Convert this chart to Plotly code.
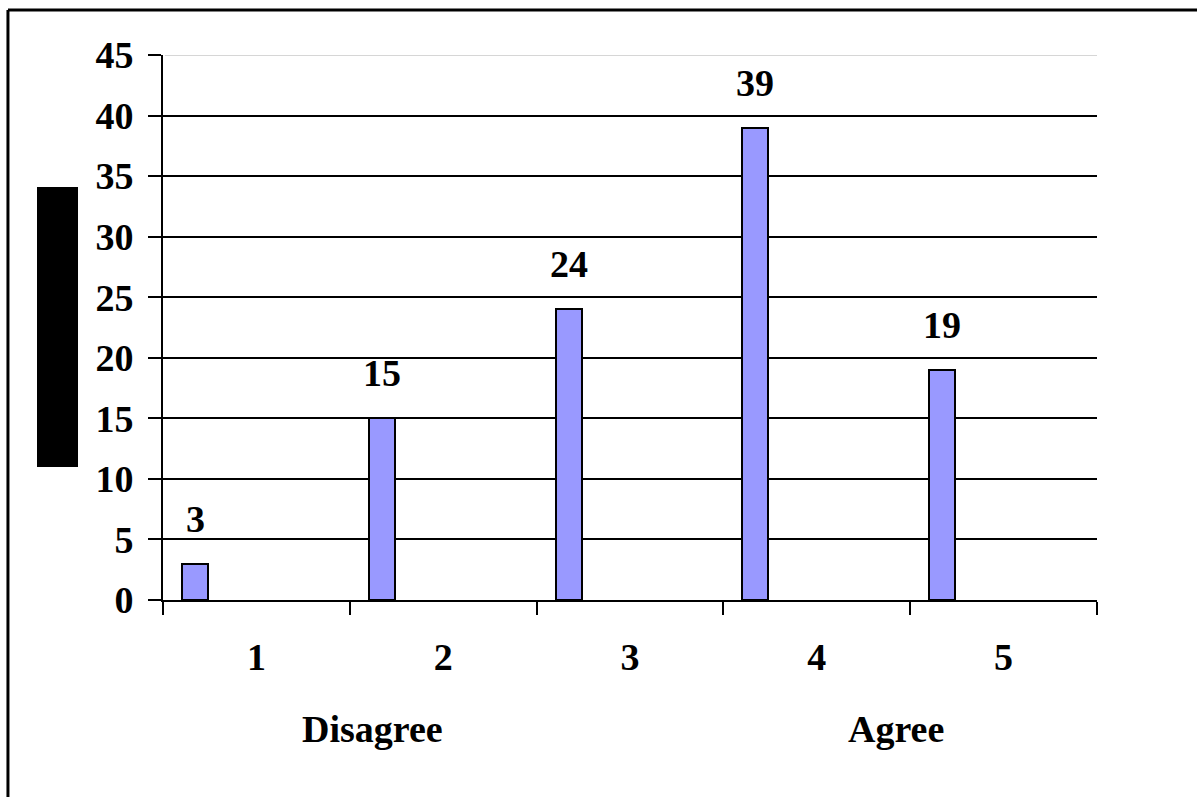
import plotly.graph_objects as go

categories = [1, 2, 3, 4, 5]
values = [3, 15, 24, 39, 19]
y_ticks = [0, 5, 10, 15, 20, 25, 30, 35, 40, 45]
scale_labels = ["Disagree", "Agree"]

BAR_OFFSET = -0.398
BAR_WIDTH = 0.139
FONT = dict(family="Liberation Serif", size=38, color="black", weight="bold")

fig = go.Figure()
fig.add_trace(go.Bar(
    x=categories, y=values,
    offset=BAR_OFFSET, width=BAR_WIDTH,
    marker=dict(color="#9999FF", line=dict(color="black", width=2)),
    showlegend=False,
))

# value labels above each bar
for c, v in zip(categories, values):
    fig.add_annotation(
        x=c + BAR_OFFSET + BAR_WIDTH / 2, y=v, xref="x", yref="y",
        text=str(v), showarrow=False, yanchor="bottom", yshift=22,
        font=FONT,
    )

fig.update_layout(
    width=1197, height=797,
    margin=dict(l=163, r=100, t=55, b=197),
    paper_bgcolor="white", plot_bgcolor="white",
    bargap=0,
    font=FONT,
)

fig.update_xaxes(
    range=[0.5, 5.5],
    tickvals=categories, ticktext=[str(c) for c in categories],
    ticks="outside", ticklen=22, tickcolor="rgba(0,0,0,0)",
    minor=dict(tickvals=[c - 0.5 for c in categories] + [categories[-1] + 0.5],
               ticks="outside", ticklen=13, tickwidth=2, tickcolor="black", showgrid=False),
    showline=True, linecolor="black", linewidth=2,
    showgrid=False, zeroline=False,
    tickfont=FONT,
)
fig.update_yaxes(
    range=[0, 45],
    tickvals=y_ticks,
    ticks="outside", ticklen=13, tickwidth=2, tickcolor="black",
    showline=True, linecolor="black", linewidth=2,
    showgrid=True, gridcolor="black", gridwidth=2,
    zeroline=False,
    ticklabelstandoff=7,
    tickfont=FONT,
)

# light top line at 45 (covers the black grid line)
fig.add_shape(type="line", xref="paper", yref="y", x0=0, x1=1, y0=45, y1=45,
              line=dict(color="white", width=5), layer="above")
fig.add_shape(type="line", xref="paper", yref="y", x0=0.002, x1=1, y0=45, y1=45,
              line=dict(color="#c8c8c8", width=1.5), layer="above")

# scale-end labels
fig.add_annotation(x=0.2248, y=-0.237, xref="paper", yref="paper", text=scale_labels[0],
                   showarrow=False, font=FONT, xanchor="center", yanchor="middle")
fig.add_annotation(x=0.785, y=-0.237, xref="paper", yref="paper", text=scale_labels[1],
                   showarrow=False, font=FONT, xanchor="center", yanchor="middle")

# redacted axis title block
fig.add_shape(type="rect", xref="paper", yref="paper", x0=-0.1349, x1=-0.091, y0=0.244, y1=0.7578,
              fillcolor="black", line=dict(width=0))

# outer frame (left and top edges)
fig.add_shape(type="line", xref="paper", yref="paper", x0=-0.166, x1=-0.166, y0=-0.4, y1=1.0826,
              line=dict(color="black", width=3))
fig.add_shape(type="line", xref="paper", yref="paper", x0=-0.166, x1=1.2, y0=1.0826, y1=1.0826,
              line=dict(color="black", width=3))

fig.write_html("out.html")
